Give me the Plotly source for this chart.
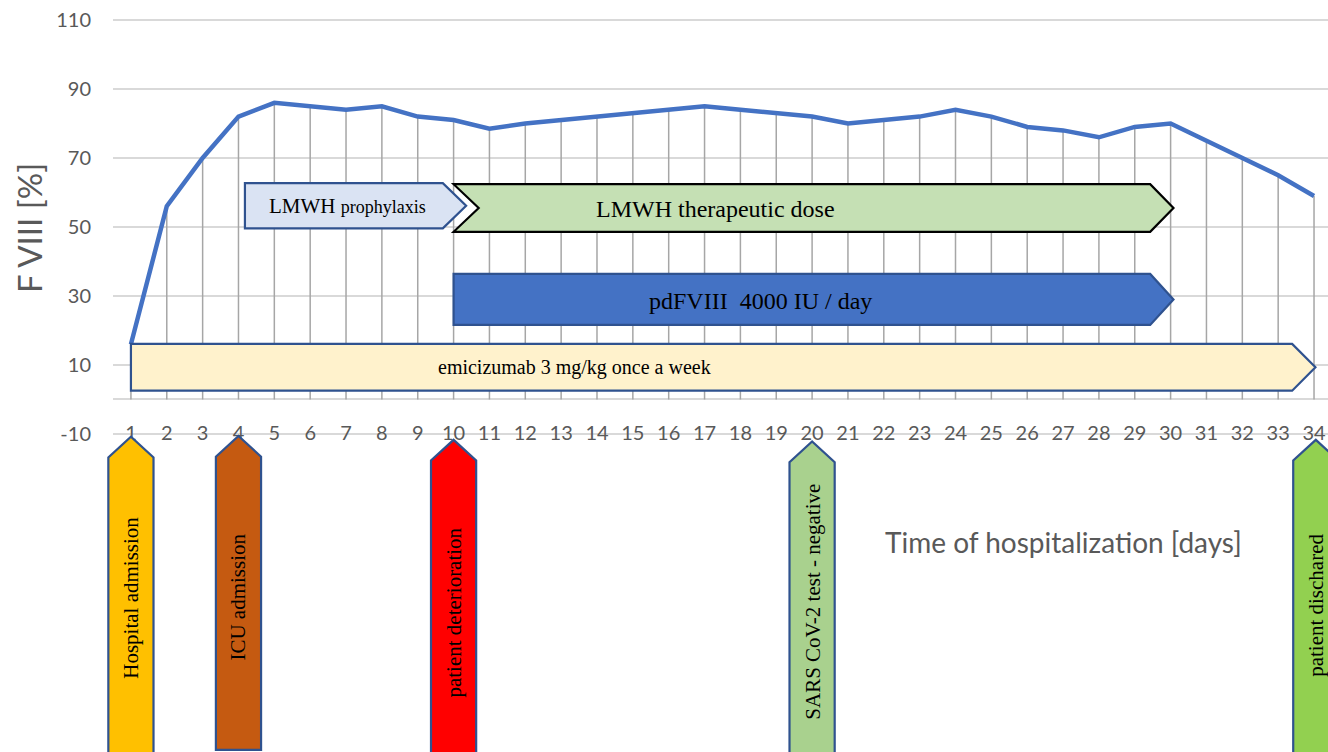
import plotly.graph_objects as go

# ---------------- data ----------------
days = [1, 2, 3, 4, 5, 6, 7, 8, 9, 10, 11, 12, 13, 14, 15, 16, 17,
        18, 19, 20, 21, 22, 23, 24, 25, 26, 27, 28, 29, 30, 31, 32, 33, 34]
day_labels = [str(d) for d in days]
fviii = [16, 56, 70, 82, 86, 85, 84, 85, 82, 81, 78.5, 80, 81, 82, 83, 84, 85,
         84, 83, 82, 80, 81, 82, 84, 82, 79, 78, 76, 79, 80, 75, 70, 65, 59]
y_ticks = [-10, 10, 30, 50, 70, 90, 110]
y_tick_labels = ["-10", "10", "30", "50", "70", "90", "110"]

# therapy bars (horizontal arrows)
bar_labels = ["LMWH <span style='font-size:18px'>prophylaxis</span>",
              "LMWH therapeutic dose",
              "pdFVIII  4000 IU / day",
              "emicizumab 3 mg/kg once a week"]
bar_start = [4.18, 10.0, 10.0, 1.0]
bar_tip = [10.35, 30.08, 30.08, 34.04]
bar_low = [49.6, 48.6, 21.6, 2.55]
bar_high = [62.7, 62.4, 36.4, 16.1]
bar_notch = [0.0, 0.7, 0.0, 0.0]
bar_fill = ["#dae3f3", "#c5e0b4", "#4472c4", "#fff2cc"]
bar_edge = ["#2f528f", "#000000", "#2f528f", "#2f528f"]
bar_text_x = [7.05, 17.3, 18.55, 13.36]
bar_text_y = [56.0, 55.2, 28.6, 9.2]
bar_text_size = [21, 24, 24, 20]

# events (vertical arrows)
event_labels = ["Hospital admission", "ICU admission", "patient deterioration",
                "SARS CoV-2 test - negative", "patient dischared"]
event_day = [1, 4, 10, 20, 34.05]
event_tip = [-10.8, -10.6, -11.7, -12.2, -11.7]
event_bottom = [-110, -101.6, -110, -110, -110]
event_fill = ["#ffc000", "#c55a11", "#ff0000", "#a9d18e", "#92d050"]
event_text_y = [-57.5, -57.3, -61.9, -58.6, -59.6]

# ---------------- layout constants ----------------
W, H = 1328, 752
left_px = 113
x_range = [0.5, 34.39]
y_range = [-102.2, 115.8]
dom0 = left_px / W
units_per_paper = (x_range[1] - x_range[0]) / (1 - dom0)
x2_range = [x_range[0] - dom0 * units_per_paper, x_range[1]]

AXIS_FONT = "Lato, 'Open Sans', sans-serif"
SERIF = "'Liberation Serif', 'Times New Roman', serif"
GREY = "#595959"

fig = go.Figure()

# drop lines
dx, dy = [], []
for d, v in zip(days, fviii):
    dx += [d, d, None]
    dy += [v, 0, None]
fig.add_trace(go.Scatter(x=dx, y=dy, mode="lines",
                         line=dict(color="#a6a6a6", width=1.5),
                         hoverinfo="skip", showlegend=False))
# F VIII line
fig.add_trace(go.Scatter(x=days, y=fviii, mode="lines",
                         line=dict(color="#4472c4", width=4.5),
                         showlegend=False))

shapes = []
annotations = []
head = 0.65
for lab, x0, xt, lo, hi, notch, fc, ec, tx, ty, ts in zip(
        bar_labels, bar_start, bar_tip, bar_low, bar_high, bar_notch,
        bar_fill, bar_edge, bar_text_x, bar_text_y, bar_text_size):
    mid = (lo + hi) / 2
    xb = xt - head
    path = (f"M {x0},{lo} L {xb},{lo} L {xt},{mid} L {xb},{hi} L {x0},{hi} "
            f"L {x0 + notch},{mid} Z")
    shapes.append(dict(type="path", path=path, xref="x", yref="y",
                       fillcolor=fc, line=dict(color=ec, width=2.2),
                       layer="above"))
    annotations.append(dict(x=tx, y=ty, xref="x", yref="y", text=lab,
                            showarrow=False, xanchor="center", yanchor="middle",
                            font=dict(family=SERIF, size=ts, color="black")))

hw = 0.63
shoulder = 6.0
for lab, d, tip, bot, fc, ty in zip(event_labels, event_day, event_tip,
                                    event_bottom, event_fill, event_text_y):
    sh = tip - shoulder
    path = (f"M {d - hw},{bot} L {d - hw},{sh} L {d},{tip} L {d + hw},{sh} "
            f"L {d + hw},{bot} Z")
    shapes.append(dict(type="path", path=path, xref="x2", yref="y2",
                       fillcolor=fc, line=dict(color="#2f528f", width=2.2),
                       layer="above"))
    annotations.append(dict(x=d, y=ty, xref="x2", yref="y2", text=lab,
                            textangle=-90, showarrow=False,
                            xanchor="center", yanchor="middle",
                            font=dict(family=SERIF, size=21, color="black")))

# axis titles
annotations.append(dict(x=29 / W, y=49.7, xref="paper", yref="y",
                        text="F VIII [%]", textangle=-90, showarrow=False,
                        xanchor="center", yanchor="middle",
                        font=dict(family=AXIS_FONT, size=33, color=GREY)))
annotations.append(dict(x=27.0, y=-41.3, xref="x", yref="y",
                        text="Time of hospitalization [days]", showarrow=False,
                        xanchor="center", yanchor="middle",
                        font=dict(family=AXIS_FONT, size=28, color=GREY)))

fig.update_layout(
    width=W, height=H,
    margin=dict(l=0, r=0, t=0, b=0),
    paper_bgcolor="white", plot_bgcolor="rgba(0,0,0,0)",
    showlegend=False,
    xaxis=dict(domain=[dom0, 1], range=x_range, anchor="free",
               position=1 - 419 / H,
               tickmode="array", tickvals=days, ticktext=day_labels,
               tickfont=dict(family=AXIS_FONT, size=20, color=GREY),
               showgrid=False, zeroline=False, showline=False, ticks=""),
    yaxis=dict(domain=[0, 1], range=y_range, anchor="x",
               tickmode="array", tickvals=y_ticks, ticktext=y_tick_labels,
               tickfont=dict(family=AXIS_FONT, size=20, color=GREY),
               showgrid=True, gridcolor="#d9d9d9", gridwidth=1.5,
               zeroline=True, zerolinecolor="#d9d9d9", zerolinewidth=1.5,
               showline=False, ticks="", ticklabelstandoff=21),
    xaxis2=dict(domain=[0, 1], range=x2_range, anchor="y2", visible=False,
                showgrid=False, zeroline=False),
    yaxis2=dict(domain=[0, 1], range=y_range, anchor="x2", visible=False,
                showgrid=False, zeroline=False),
    shapes=shapes,
    annotations=annotations,
)

fig.write_html("out.html", config={"displayModeBar": False},
               post_script="document.body.style.margin='0';")
